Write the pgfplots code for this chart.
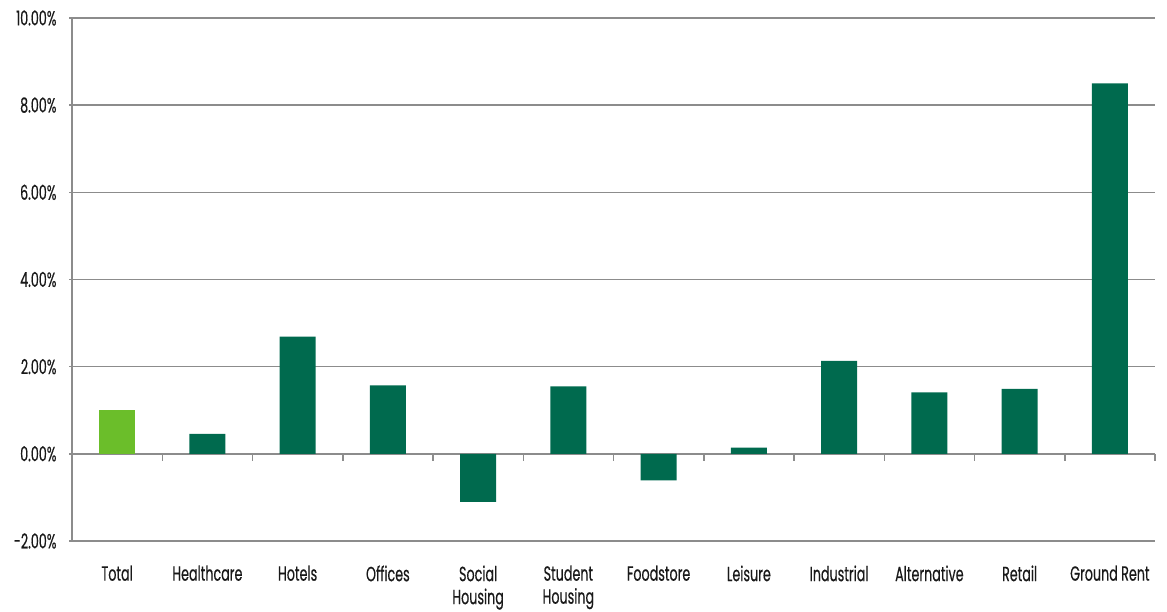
\documentclass[border=0pt]{standalone}
\usepackage{fontspec}
\setmainfont{Poppins}[FakeStretch=0.62, FakeBold=0.4]
\usepackage{pgfplots}
\pgfplotsset{compat=1.18}

\definecolor{darkgreen}{RGB}{0,106,78}
\definecolor{lightgreen}{RGB}{107,190,42}
\definecolor{gridgray}{RGB}{140,140,140}
\definecolor{labeltext}{RGB}{25,25,25}

\begin{document}
\begin{tikzpicture}[x=1pt,y=1pt]
\useasboundingbox (0,0) rectangle (1167,612);
\begin{axis}[
  at={(72pt,71pt)}, anchor=south west,
  scale only axis,
  width=1083pt, height=523pt,
  xmin=-0.5, xmax=11.5,
  ymin=-2, ymax=10,
  ytick={-2,0,2,4,6,8,10},
  yticklabels={-2.00\%,0.00\%,2.00\%,4.00\%,6.00\%,8.00\%,10.00\%},
  xtick={0,...,11},
  xticklabels={Total,Healthcare,Hotels,Offices,{Social\\Housing},{Student\\Housing},Foodstore,Leisure,Industrial,Alternative,Retail,Ground Rent},
  xticklabel style={align=center, text=labeltext, font=\fontsize{20.5}{23}\selectfont, yshift=-15pt},
  yticklabel style={text=labeltext, font=\fontsize{20.5}{23}\selectfont, xshift=-9pt},
  axis y line=left, axis x line=bottom,
  axis line style={gridgray, line width=1.5pt, -},
  x tick style={draw=none},
  y tick style={gridgray, line width=1.5pt},
  major tick length=6pt,
  ymajorgrids,
  grid style={gridgray, line width=1.5pt},
  ybar, bar width=36pt, bar shift=0pt,
  clip=false,
]
\addplot[fill=lightgreen, draw=none] coordinates {(0,1.01)};
\addplot[fill=darkgreen, draw=none] coordinates {
  (1,0.46) (2,2.69) (3,1.57) (4,-1.10) (5,1.55) (6,-0.61)
  (7,0.14) (8,2.13) (9,1.41) (10,1.49) (11,8.50)};
% category separators hanging below the zero line
\foreach \i in {0.5,1.5,...,11.5} {
  \edef\temp{\noexpand\draw[gridgray, line width=1.5pt] (axis cs:\i,0) -- ++(0pt,-7pt);}
  \temp
}
\end{axis}
\end{tikzpicture}
\end{document}
